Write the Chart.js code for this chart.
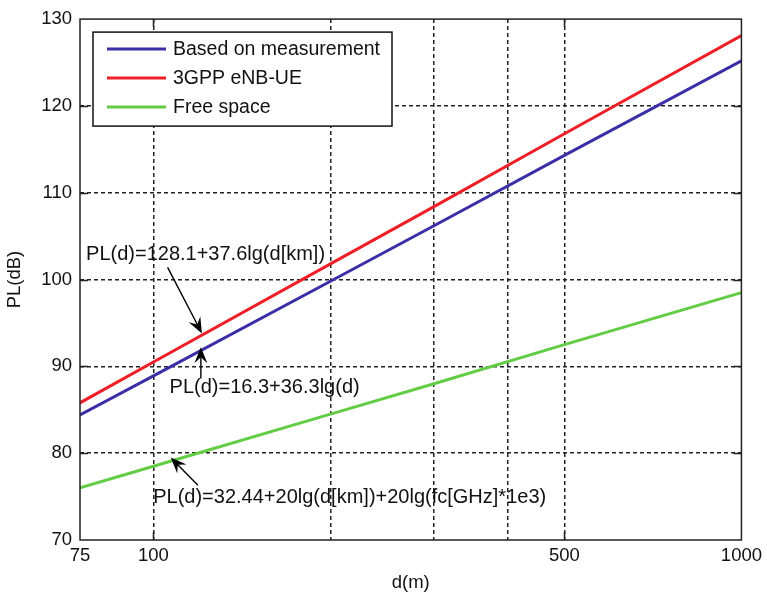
<!DOCTYPE html>
<html>
<head>
<meta charset="utf-8">
<script src="https://cdn.jsdelivr.net/npm/chart.js@4"></script>
<style>
  body { margin: 0; background: #fff; }
</style>
</head>
<body>
<canvas id="plChart" width="767" height="599"></canvas>
<script>
// distances along the x-axis (m)
var distances = [75, 100, 200, 300, 500, 1000];

// path loss (dB)
var measured = [84.4, 88.9, 99.8, 106.2, 114.3, 125.2];
var threeGpp = [85.8, 90.5, 101.8, 108.4, 116.8, 128.1];
var freeSpace = [76.0, 78.5, 84.5, 88.0, 92.5, 98.5];

var seriesNames = ["Based on measurement", "3GPP eNB-UE", "Free space"];

// tick values
var xTicks = [75, 100, 200, 300, 400, 500, 1000];
var xLabels = [75, 100, 500, 1000];
var xGrid = [100, 200, 300, 400, 500];
var yGrid = [80, 90, 100, 110, 120];

var FONT = "'Liberation Sans', Arial, sans-serif";

function pts(ys) {
  return distances.map(function (d, i) { return { x: d, y: ys[i] }; });
}

// text notes with arrows, placed in data units (d, PL)
var notes = [
  { text: "PL(d)=128.1+37.6lg(d[km])", at: [76.8, 102.9], from: [105.7, 101.4], to: [120.9, 93.8] },
  { text: "PL(d)=16.3+36.3lg(d)", at: [106.5, 87.6], from: [120.4, 88.6], to: [120.4, 92.2] },
  { text: "PL(d)=32.44+20lg(d[km])+20lg(fc[GHz]*1e3)", at: [99.9, 74.9], from: [119.0, 76.3], to: [107.0, 79.5] }
];

function arrow(ctx, x1, y1, x2, y2) {
  var a = Math.atan2(y2 - y1, x2 - x1);
  var len = 16, half = 6.5;
  ctx.strokeStyle = "#000";
  ctx.fillStyle = "#000";
  ctx.lineWidth = 1.4;
  ctx.beginPath();
  ctx.moveTo(x1, y1);
  ctx.lineTo(x2 - Math.cos(a) * 8, y2 - Math.sin(a) * 8);
  ctx.stroke();
  var bx = x2 - Math.cos(a) * len, by = y2 - Math.sin(a) * len;
  var nx = x2 - Math.cos(a) * (len - 6), ny = y2 - Math.sin(a) * (len - 6);
  ctx.beginPath();
  ctx.moveTo(x2, y2);
  ctx.lineTo(bx - Math.sin(a) * half, by + Math.cos(a) * half);
  ctx.lineTo(nx, ny);
  ctx.lineTo(bx + Math.sin(a) * half, by - Math.cos(a) * half);
  ctx.closePath();
  ctx.fill();
}

var decorations = {
  id: "decorations",
  afterDraw: function (chart) {
    var ctx = chart.ctx;
    var a = chart.chartArea;
    var xs = chart.scales.x, ys = chart.scales.y;
    ctx.save();

    // axes box
    ctx.strokeStyle = "#222";
    ctx.lineWidth = 1.5;
    ctx.strokeRect(a.left, a.top, a.right - a.left, a.bottom - a.top);

    // inward tick marks
    ctx.beginPath();
    [100, 500].forEach(function (v) {
      var px = Math.round(xs.getPixelForValue(v)) + 0.5;
      ctx.moveTo(px, a.bottom); ctx.lineTo(px, a.bottom - 8);
      ctx.moveTo(px, a.top); ctx.lineTo(px, a.top + 8);
    });
    yGrid.forEach(function (v) {
      var py = Math.round(ys.getPixelForValue(v)) + 0.5;
      ctx.moveTo(a.left, py); ctx.lineTo(a.left + 8, py);
      ctx.moveTo(a.right, py); ctx.lineTo(a.right - 8, py);
    });
    ctx.stroke();

    // legend
    var lx = a.left + 13, ly = a.top + 13;
    ctx.fillStyle = "#fff";
    ctx.fillRect(lx, ly, 299, 94);
    ctx.strokeStyle = "#111";
    ctx.lineWidth = 1.5;
    ctx.strokeRect(lx, ly, 299, 94);
    ctx.font = "19.5px " + FONT;
    ctx.textBaseline = "middle";
    chart.data.datasets.forEach(function (ds, i) {
      var ry = ly + 17 + i * 29;
      ctx.strokeStyle = ds.borderColor;
      ctx.lineWidth = 3;
      ctx.beginPath();
      ctx.moveTo(lx + 14, ry);
      ctx.lineTo(lx + 73, ry);
      ctx.stroke();
      ctx.fillStyle = "#111";
      ctx.fillText(ds.label, lx + 80, ry + 1);
    });

    // notes with arrows
    ctx.font = "20px " + FONT;
    ctx.textAlign = "left";
    notes.forEach(function (n) {
      arrow(ctx,
        xs.getPixelForValue(n.from[0]), ys.getPixelForValue(n.from[1]),
        xs.getPixelForValue(n.to[0]), ys.getPixelForValue(n.to[1]));
      ctx.fillStyle = "#111";
      ctx.fillText(n.text, xs.getPixelForValue(n.at[0]), ys.getPixelForValue(n.at[1]));
    });

    ctx.restore();
  }
};

var ctx = document.getElementById("plChart");
var myChart = new Chart(ctx, {
  type: "line",
  data: {
    datasets: [
      { label: seriesNames[0], data: pts(measured), borderColor: "#3a2fa6" },
      { label: seriesNames[1], data: pts(threeGpp), borderColor: "#ee1f26" },
      { label: seriesNames[2], data: pts(freeSpace), borderColor: "#62cc45" }
    ]
  },
  options: {
    responsive: false,
    devicePixelRatio: 1,
    animation: false,
    layout: { padding: { top: 15, right: 25, left: 0, bottom: 0 } },
    elements: {
      line: { borderWidth: 3, tension: 0, fill: false },
      point: { radius: 0 }
    },
    plugins: {
      legend: { display: false },
      tooltip: { enabled: false }
    },
    scales: {
      x: {
        type: "logarithmic",
        min: 75,
        max: 1000,
        afterBuildTicks: function (scale) {
          scale.ticks = xTicks.map(function (v) { return { value: v }; });
        },
        afterFit: function (scale) { scale.height = 59; },
        ticks: {
          autoSkip: false,
          maxRotation: 0,
          padding: 5,
          color: "#111",
          font: { family: FONT, size: 18.5 },
          callback: function (v) { return xLabels.indexOf(v) >= 0 ? String(v) : ""; }
        },
        grid: {
          drawTicks: false,
          lineWidth: 1.5,
          color: function (c) {
            return c.tick && xGrid.indexOf(c.tick.value) >= 0 ? "#222" : "rgba(0,0,0,0)";
          }
        },
        border: { display: false, dash: [4, 3] },
        title: {
          display: true,
          text: "d(m)",
          color: "#111",
          font: { family: FONT, size: 18.5 },
          padding: { top: 0, bottom: 5 }
        }
      },
      y: {
        min: 70,
        max: 130,
        afterFit: function (scale) { scale.width = 80; },
        ticks: {
          stepSize: 10,
          padding: 8,
          color: "#111",
          font: { family: FONT, size: 18.5 }
        },
        grid: {
          drawTicks: false,
          lineWidth: 1.5,
          color: function (c) {
            return c.tick && yGrid.indexOf(c.tick.value) >= 0 ? "#222" : "rgba(0,0,0,0)";
          }
        },
        border: { display: false, dash: [4, 3] },
        title: {
          display: true,
          text: "PL(dB)",
          color: "#111",
          font: { family: FONT, size: 18.5 },
          padding: { top: 4, bottom: 4 }
        }
      }
    }
  },
  plugins: [decorations]
});
</script>
</body>
</html>
